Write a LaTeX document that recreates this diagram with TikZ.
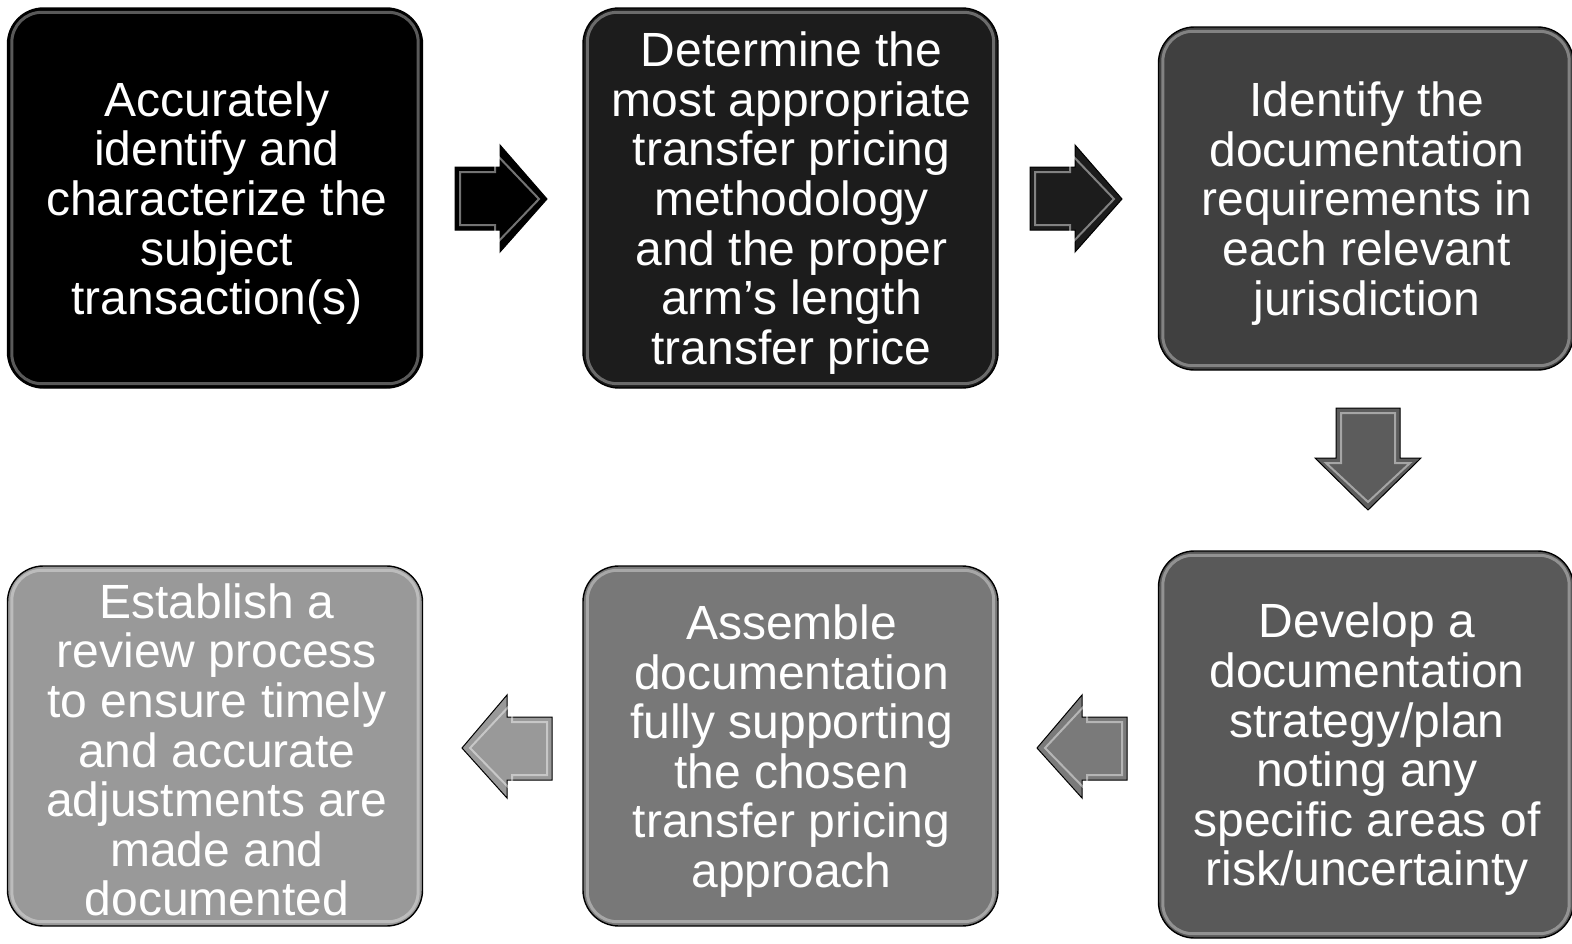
\documentclass[tikz,border=0pt]{standalone}
\usepackage{fontspec}
\setmainfont{Liberation Sans}
\begin{document}
\begin{tikzpicture}[x=1pt,y=-1pt,
  stepbox/.style={draw=black, line width=1.4pt, rounded corners=36pt,
    minimum width=415pt, inner sep=0pt},
  steptext/.style={text=white, align=center,
    font=\fontsize{48}{49.6}\selectfont, inner sep=0pt},
  bevel/.style={draw=white, draw opacity=0.35, line width=3pt, rounded corners=30pt},
  blockarrow/.style={draw=black, line width=1pt, line join=miter},
  arrowbevel/.style={draw=white, draw opacity=0.45, line width=2pt}]
\useasboundingbox (0,0) rectangle (1572,943);
\definecolor{cA}{gray}{0.0}
\definecolor{cB}{gray}{0.11}
\definecolor{cC}{gray}{0.25}
\definecolor{cD}{gray}{0.35}
\definecolor{cE}{gray}{0.47}
\definecolor{cF}{gray}{0.60}

% boxes
\node[stepbox, fill=cA, minimum height=380pt] (b1) at (215,198) {};
\node[stepbox, fill=cB, minimum height=380pt] (b2) at (790.5,198) {};
\node[stepbox, fill=cC, minimum height=343pt] (b3) at (1366,198.5) {};
\node[stepbox, fill=cD, minimum height=387pt] (b4) at (1366,744.5) {};
\node[stepbox, fill=cE, minimum height=360pt] (b5) at (790.5,746) {};
\node[stepbox, fill=cF, minimum height=360pt] (b6) at (215,746) {};

% bevel highlights
\foreach \b in {b1,b2,b3,b4,b5,b6}{
  \draw[bevel] ([shift={(5pt,-5pt)}]\b.north west) rectangle ([shift={(-5pt,5pt)}]\b.south east);
}

% texts
\node[steptext] (x1) at ([shift={(2pt,-5pt)}]b1.center)
  {Accurately\\identify and\\characterize the\\subject\\transaction(s)};
\node[steptext] (x2) at ([shift={(1pt,-5pt)}]b2.center)
  {Determine the\\most appropriate\\transfer pricing\\methodology\\and the proper\\arm’s length\\transfer price};
\node[steptext] (x3) at ([shift={(1pt,-5pt)}]b3.center)
  {Identify the\\documentation\\requirements in\\each relevant\\jurisdiction};
\node[steptext] (x4) at ([shift={(1pt,-5pt)}]b4.center)
  {Develop a\\documentation\\strategy/plan\\noting any\\specific areas of\\risk/uncertainty};
\node[steptext] (x5) at ([shift={(1pt,-5pt)}]b5.center)
  {Assemble\\documentation\\fully supporting\\the chosen\\transfer pricing\\approach};
\node[steptext] (x6) at ([shift={(2pt,-4pt)}]b6.center)
  {Establish a\\review process\\to ensure timely\\and accurate\\adjustments are\\made and\\documented};

% block arrows
\coordinate (t1) at (547,199);
\filldraw[blockarrow, fill=cA] (455,167) -- (500,167) -- (500,145) -- (t1) -- (500,252) -- (500,230) -- (455,230) -- cycle;
\draw[arrowbevel] (460,172) -- (495,172) -- (495,153) -- (539,199) -- (495,245) -- (495,225) -- (460,225) -- cycle;

\coordinate (t2) at (1122,199);
\filldraw[blockarrow, fill=cB] (1030,167) -- (1075,167) -- (1075,145) -- (t2) -- (1075,252) -- (1075,230) -- (1030,230) -- cycle;
\draw[arrowbevel] (1035,172) -- (1070,172) -- (1070,153) -- (1114,199) -- (1070,245) -- (1070,225) -- (1035,225) -- cycle;

\coordinate (t3) at (1368,510);
\filldraw[blockarrow, fill=cC!85!white] (1336,408) -- (1400,408) -- (1400,458) -- (1421,458) -- (t3) -- (1315,458) -- (1336,458) -- cycle;
\draw[arrowbevel] (1341,413) -- (1395,413) -- (1395,463) -- (1410,463) -- (1368,502) -- (1326,463) -- (1341,463) -- cycle;

\coordinate (t4) at (1037,748);
\filldraw[blockarrow, fill=cD!80!white] (1127,717) -- (1082,717) -- (1082,695) -- (t4) -- (1082,798) -- (1082,780) -- (1127,780) -- cycle;
\draw[arrowbevel] (1122,722) -- (1087,722) -- (1087,703) -- (1045,748) -- (1087,791) -- (1087,775) -- (1122,775) -- cycle;

\coordinate (t5) at (462,748);
\filldraw[blockarrow, fill=cF] (552,717) -- (507,717) -- (507,695) -- (t5) -- (507,798) -- (507,780) -- (552,780) -- cycle;
\draw[arrowbevel] (547,722) -- (512,722) -- (512,703) -- (470,748) -- (512,791) -- (512,775) -- (547,775) -- cycle;
\end{tikzpicture}
\end{document}
